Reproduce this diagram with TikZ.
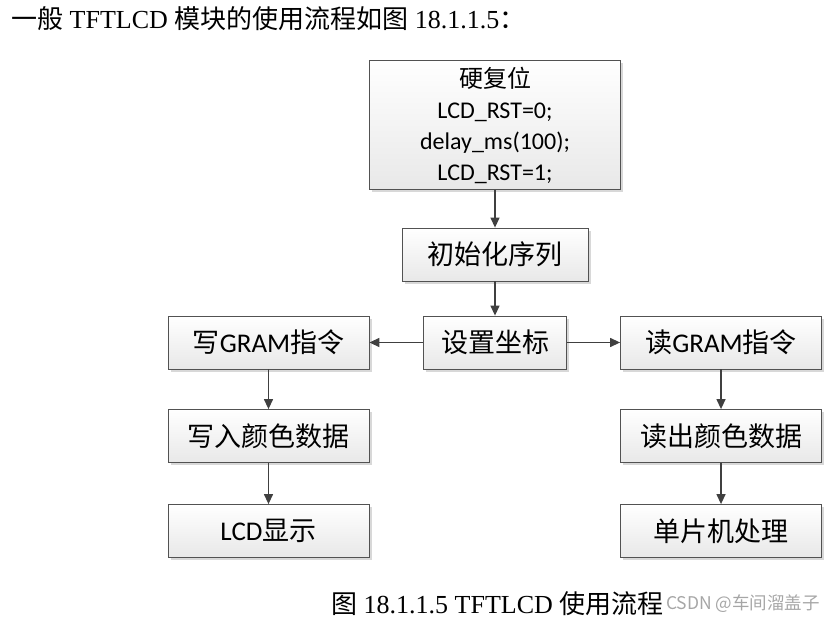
\documentclass[tikz,border=0pt]{standalone}
\usepackage{fontspec}
\setmainfont{Carlito}
\newfontfamily\cjk{Noto Sans CJK SC}
\newfontfamily\tms{Liberation Serif}
\usetikzlibrary{arrows.meta,shadows}

\begin{document}
\begin{tikzpicture}[x=1pt, y=-1pt,
    stepbox/.style={draw=black!68, line width=0.8pt, top color=white, bottom color=black!9,
        drop shadow={shadow xshift=2.5pt, shadow yshift=-2.5pt, fill=black!30, opacity=0.5},
        inner sep=0pt, minimum height=53pt, font=\fontsize{27}{31}\selectfont},
    flow/.style={draw=black!75, line width=1.3pt, -{Triangle[length=10pt,width=9pt]}}]

    \useasboundingbox (0,0) rectangle (835,623);

    % HEADER LINE
    \node[anchor=west, inner sep=0pt, font=\fontsize{26}{30}\selectfont\tms] (head) at (11,19)
        {{\cjk 一般} TFTLCD {\cjk 模块的使用流程如图} 18.1.1.5{\cjk ：}};

    % 1. RESET BOX
    \node[stepbox, minimum width=251pt, minimum height=129pt, align=center,
        font=\fontsize{24}{31}\selectfont] (reset) at (495,125)
        {{\cjk 硬复位}\\LCD\_RST=0;\\delay\_ms(100);\\LCD\_RST=1;};

    % 2. MIDDLE COLUMN
    \node[stepbox, minimum width=186pt] (init) at (495,254.5) {\cjk 初始化序列};
    \node[stepbox, minimum width=143pt] (setxy) at (495,342.5) {\cjk 设置坐标};

    % 3. LEFT COLUMN (WRITE)
    \node[stepbox, minimum width=201pt] (wcmd) at (268.5,342.5) {{\cjk 写}GRAM{\cjk 指令}};
    \node[stepbox, minimum width=201pt] (wdata) at (268.5,436) {\cjk 写入颜色数据};
    \node[stepbox, minimum width=201pt] (lcd) at (268.5,531) {LCD{\cjk 显示}};

    % 4. RIGHT COLUMN (READ)
    \node[stepbox, minimum width=201pt] (rcmd) at (721,342.5) {{\cjk 读}GRAM{\cjk 指令}};
    \node[stepbox, minimum width=201pt] (rdata) at (721,436) {\cjk 读出颜色数据};
    \node[stepbox, minimum width=201pt] (mcu) at (721,531) {\cjk 单片机处理};

    % ARROWS
    \draw[flow] (reset) -- (init);
    \draw[flow] (init) -- (setxy);
    \draw[flow] (setxy) -- (wcmd);
    \draw[flow] (setxy) -- (rcmd);
    \draw[flow] (wcmd) -- (wdata);
    \draw[flow] (wdata) -- (lcd);
    \draw[flow] (rcmd) -- (rdata);
    \draw[flow] (rdata) -- (mcu);

    % CAPTION AND WATERMARK
    \node[anchor=west, inner sep=0pt, font=\fontsize{26}{30}\selectfont\tms] (caption) at (331,604)
        {{\cjk 图} 18.1.1.5 TFTLCD {\cjk 使用流程}};
    \node[anchor=west, inner sep=0pt, text=black!35, font=\fontsize{17.5}{20}\selectfont\cjk] (mark) at (666,604)
        {CSDN @车间溜盖子};

\end{tikzpicture}
\end{document}
